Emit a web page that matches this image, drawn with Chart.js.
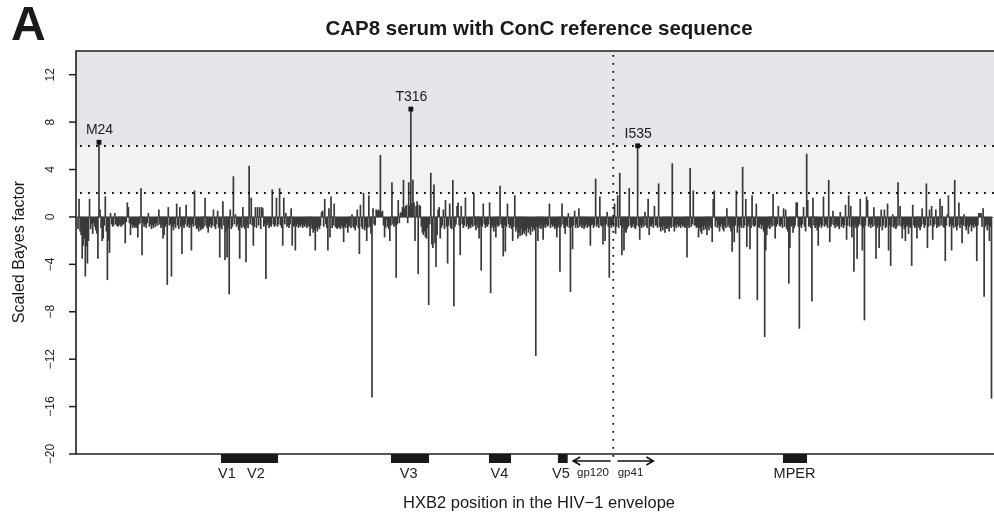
<!DOCTYPE html>
<html>
<head>
<meta charset="utf-8">
<script src="https://cdn.jsdelivr.net/npm/chart.js@4.4.1/dist/chart.umd.min.js"></script>
<style>
  html, body { margin: 0; padding: 0; background: #ffffff; overflow: hidden; }
  #wrap { width: 994px; height: 519px; }
</style>
</head>
<body>
<div id="wrap"><canvas id="c" width="994" height="519"></canvas></div>
<script>
// ---------------- DATA (scaled Bayes factor per aligned envelope position) ----------------
const seg1 = [-1.0,1.5,-1.2,-1.5,-3.5,-2.4,-1.8,-5.0,-2.5,-3.9, -2.0,1.5,-1.0,-0.6,-1.4,-0.5,-0.8,-1.1,-1.4,-3.5,
  6.3,0.6,-0.9,-2.0,-1.8,-0.7,1.7,-1.2,-5.3,-2.0, -3.0,0.3,-0.6,-0.8,-0.7,0.3,-0.6,-0.7,-0.8,-0.7,
  -0.6,-0.8,-0.7,-0.6,-0.5,-2.2,-0.4,1.2,0.8,-0.5, -1.5,-0.6,-0.9,-0.7,-0.9,-0.8,-0.9,-1.7,-0.6,-0.5,
  2.4,-3.2,-0.5,-0.8,-0.6,-0.9,-0.5,0.3,-0.8,-0.6, -1.0,-0.7,-0.9,-0.6,-0.8,-0.5,-0.7,0.6,-0.6,-0.9,
  -0.7,-1.8,-1.5,-0.8,-0.6,-5.7,0.8,-0.7,-0.6,-5.0, -0.8,-1.1,-0.6,-0.9,1.1,-0.7,-1.0,0.8,-0.8,-3.1];
const seg2 = [-0.7,-0.9,-0.6,1.0,-0.8,-0.6,-0.9,-0.7,-2.8,-0.6, -0.8,2.2,-0.7,-1.0,-0.9,-1.2,-0.8,-1.1,-0.9,-1.0,
  -0.8,1.6,-0.7,-0.9,-1.3,-0.8,-0.6,-0.9,-0.7,0.6, -0.8,-1.0,-0.6,0.5,-0.9,-3.4,-0.8,-1.0,1.3,-0.7,
  -3.6,-1.2,-3.4,-0.9,-6.5,0.6,-1.0,-0.8,3.4,-0.6, 0.2,-0.8,-0.6,-1.1,-3.5,-0.7,-0.9,0.8,-0.8,-1.0,
  -3.8,-0.7,-0.9,4.3,-0.6,1.6,-0.7,-2.4,-0.8,0.8, -0.9,0.8,-0.7,0.8,-1.0,0.8,0.7,-0.8,-0.6,-5.2,
  -0.7,-0.5,-0.9,-0.7,-0.8,2.3,-0.6,-0.8,-0.7,1.6, -0.8,-0.6,2.4,-0.7,-0.9,-2.4,1.6,-0.6,0.3,-0.8];
const seg3 = [-0.7,-0.9,-0.6,0.7,-2.4,-0.8,-0.7,-2.8,-0.8,-0.6, -0.9,-0.7,-0.8,-0.6,-0.9,-0.7,-0.8,-0.6,-0.9,-0.7,
  -0.8,-1.6,-0.7,-1.0,-1.3,-1.1,-2.8,-0.9,-1.2,-0.8, -1.0,-0.7,0.4,0.5,-0.8,1.5,-0.6,-0.9,-2.8,0.7,
  -1.7,1.7,-0.9,-0.7,1.1,-0.8,-0.9,-1.0,-0.8,-0.9, -1.0,-0.7,-0.9,-2.1,-0.8,-0.9,-0.6,-1.3,-0.8,-0.7,
  -0.9,0.2,-0.8,-0.9,-1.1,-0.7,0.6,-0.9,-3.1,1.0, -0.8,-1.0,2.0,-1.1,-0.8,-2.0,-0.9,1.8,-0.8,-1.4,
  -15.2,0.7,-0.6,-0.7,0.6,0.5,0.6,0.5,5.2,0.4, 0.5,-0.7,-1.7,-0.9,-0.2,-0.8,-1.0,-2.0,-0.7,2.9];
const seg4 = [-0.6,-0.8,-0.7,-5.1,-0.6,1.4,-0.5,0.3,0.4,0.8, 3.1,0.7,0.9,1.0,-0.5,2.9,0.9,9.1,1.1,3.1,
  1.2,-2.0,0.9,1.3,-4.8,1.0,0.9,-0.8,-1.3,-1.5, -1.2,-1.7,-1.8,-0.9,-7.4,-0.6,3.7,-2.3,-2.6,2.7,
  -2.2,-4.2,-1.5,0.6,0.8,-1.8,-0.9,-0.7,0.6,-1.0, 1.4,-0.8,-3.9,-0.7,1.1,-0.9,-1.0,3.1,-7.5,-0.8,
  -0.6,0.9,1.2,-0.7,-3.2,0.9,-0.6,-0.9,-0.7,1.6, -0.8,-0.6,-1.0,-0.8,-0.9,-0.6,-0.8,2.0,-0.7,-1.1,
  -0.6,-0.9,-1.8,-0.7,-4.5,-0.8,1.1,-0.6,-0.9,-0.7, -0.8,-0.6,1.2,-6.4,-0.9,-0.7,-1.2,-0.8,-1.7,-0.6];
const seg5 = [-0.8,-0.7,2.6,-0.6,-0.9,-3.3,-0.7,-2.9,-0.8,1.1, -0.6,-0.9,-0.7,-1.0,-2.0,-0.8,1.8,-1.2,-0.9,-1.8,
  -1.3,-1.6,-1.0,-1.5,-1.2,-1.4,-1.1,-1.6,-0.9,-1.3, -1.0,-1.5,-0.8,-1.2,-0.9,-1.1,-11.7,-0.8,-2.0,-0.9,
  -0.7,-1.0,-0.8,-1.9,-0.7,-0.9,-0.6,-0.8,-0.7,1.1, -0.9,-0.6,-0.8,-0.7,-1.0,-0.8,-1.7,-0.9,-0.7,-4.6,
  -0.8,1.1,-0.6,-0.9,-1.4,-0.7,-0.8,0.3,-0.9,-6.3, -0.8,-2.7,-0.7,0.5,-0.9,-0.6,-0.9,0.7,-0.8,-0.6,
  -0.9,-0.7,-1.0,-0.8,-0.6,-0.9,-0.7,-0.8,-2.4,-0.7, -0.6,-0.9,-0.7,3.2,-0.8,-0.6,-0.9,1.7,-0.7,-0.8];
const seg6 = [-2.3,-0.7,-2.0,-0.6,0.4,-0.8,-5.1,-0.7,-0.9,-0.6, -0.8,1.1,-1.4,-0.8,1.8,-0.9,3.7,-0.7,-3.2,-0.9,
  -2.8,-1.2,-1.3,-1.0,-0.8,2.4,-0.7,-0.9,-0.8,-0.6, -0.9,-1.0,-0.7,6.0,-0.8,-1.9,-0.7,-0.9,-0.6,-0.8,
  0.4,-0.7,-0.9,1.5,-1.5,-0.7,-0.8,-0.6,-0.9,0.9, -0.7,-0.7,-0.9,2.8,-0.8,-1.2,-0.8,-1.1,-0.7,-1.3,
  -0.9,-1.0,-0.8,-1.2,-0.7,-0.9,4.5,-0.8,-1.2,-0.7, -0.9,-0.6,-0.8,-0.7,-0.9,-0.6,-0.8,-0.7,-0.9,-0.8,
  -3.4,-0.7,-0.9,4.1,-0.8,-0.6,2.2,-0.7,-0.7,-0.9, -0.8,-1.7,-0.9,-1.2,-1.4,-0.8,-1.1,-0.7,-1.0,-1.5];
const seg7 = [-0.8,-1.1,-0.7,-0.9,-2.1,1.5,2.2,-0.8,-0.3,-0.9, -0.7,-1.2,-0.8,-0.6,-1.0,-1.2,-0.7,-0.9,0.7,-0.8,
  -0.6,-0.9,-1.2,-2.9,-0.8,-2.1,-0.7,2.2,-1.3,-0.8, -6.9,-0.7,-0.9,4.2,-0.9,-0.7,1.5,-2.5,-0.8,-0.6,
  -2.7,-0.9,1.8,-0.7,-0.8,-0.7,1.1,-7.0,-0.8,-0.9, -0.6,-1.0,-0.7,-1.2,-10.1,-2.8,-1.5,-0.9,-0.7,-1.0,
  -0.6,-0.8,1.9,-0.7,-1.8,-0.8,-0.6,0.9,-0.7,-0.8, -0.6,-0.9,0.7,-0.8,0.6,-1.0,-1.2,-5.6,-2.6,-0.8,
  -0.7,-1.3,-0.9,-0.7,1.2,1.2,-0.8,-9.4,-0.7,-0.9, -0.6,0.8,-0.8,-1.2,5.3,1.4,-0.8,-0.7,-0.9,-7.1];
const seg8 = [1.6,-0.7,-0.9,-0.7,-1.1,-2.4,-0.8,-0.6,-0.9,-0.7, 1.7,-0.8,-0.6,-0.7,-0.9,3.1,-2.1,-0.8,-0.6,0.5,
  -0.7,-0.9,-0.6,-0.8,-0.7,-1.0,0.4,-0.8,-0.6,-0.9, -0.7,1.0,-1.9,-0.7,1.8,-0.8,0.9,-1.7,-0.8,-4.6,
  -0.7,-0.9,-3.5,-0.8,-0.6,1.5,-0.7,-2.8,-0.9,-8.7, -0.7,1.7,1.4,-0.8,-0.6,-0.9,-0.6,-0.8,0.8,-0.7,
  -3.5,-0.9,-0.7,-2.6,-0.8,0.6,-1.1,-0.7,0.6,-0.9, -0.8,1.1,-2.8,-0.7,-4.1,-0.8,0.2,-0.9,-0.7,-1.0,
  -0.8,2.9,-0.7,0.9,-0.8,-1.8,-0.7,-1.0,-2.0,-0.8, -0.7,-1.4,-0.8,-0.9,-4.1,1.0,-0.7,-0.9,-0.8,-1.8];
const seg9 = [-0.7,-0.9,-1.1,-0.8,0.7,-0.6,-0.9,-0.7,2.8,-2.6, -0.8,0.6,-0.7,0.9,-1.9,-0.8,-0.6,0.6,-0.9,-0.7,
  -0.8,1.5,-0.7,0.9,-0.8,-0.9,-3.7,-0.7,0.2,1.8, -0.8,-0.6,-2.8,-0.7,-0.9,3.1,-0.8,-1.1,-0.7,1.2,
  -0.9,-0.6,-2.2,-0.7,0.2,-0.8,-1.1,-0.7,-1.4,-0.8, -0.6,-1.2,-0.7,-0.9,-0.6,-0.8,-3.7,-0.7,0.3,0.3,
  0.3,-0.8,0.7,-6.7,-0.8,-0.6,-1.1,-0.7,-2.0,-0.8, -15.3];

// labelled sites (aligned position index + residue label)
const siteIndex = [21, 318, 534];
const siteNames = ['M24', 'T316', 'I535'];

// y axis
const yTicks = [-20, -16, -12, -8, -4, 0, 4, 8, 12];
const yMin = -20, yMax = 14;
const thresholds = [2, 6];

// x axis range (aligned position index)
const xMin = -0.9, xMax = 873.4;
const gpBoundary = 510.8;

// envelope regions along the position axis
const regionNames  = ['V1V2', 'V3', 'V4', 'V5', 'MPER'];
const regionStart  = [137.2, 299.1, 392.4, 458.1, 672.4];
const regionEnd    = [191.5, 335.3, 413.4, 467.4, 695.3];
const regionLabels = ['V1', 'V2', 'V3', 'V4', 'V5', 'MPER'];
const regionLabelAt = [142.9, 170.5, 316.0, 402.4, 461.0, 683.4];
const subunitLabels = ['gp120', 'gp41'];
const subunitLabelAt = [491.5, 527.2];
const leftArrow = [472.6, 508.3];
const rightArrow = [514.8, 549.0];

// ---------------- BUILD ----------------
const values = [].concat(seg1, seg2, seg3, seg4, seg5, seg6, seg7, seg8, seg9);
const positions = values.map((v, i) => i + 1);
const barData = positions.map((p, i) => ({ x: p, y: values[i] }));
const siteData = siteIndex.map(p => ({ x: p, y: values[p - 1] }));

const FONT = "'Liberation Sans', Arial, Helvetica, sans-serif";
const INK = '#1f1f1f';

const decor = {
  id: 'decor',
  beforeDraw(chart) {
    const { ctx, chartArea: a, scales: { x, y } } = chart;
    ctx.save();
    const yTop = y.getPixelForValue(yMax);
    const y6 = y.getPixelForValue(thresholds[1]);
    const y2 = y.getPixelForValue(thresholds[0]);
    ctx.fillStyle = '#e4e5e8';
    ctx.fillRect(a.left, yTop, a.right - a.left, y6 - yTop);
    ctx.fillStyle = '#f1f2f4';
    ctx.fillRect(a.left, y6, a.right - a.left, y2 - y6);
    // zero line
    const y0 = y.getPixelForValue(0);
    ctx.strokeStyle = '#a9a9a9';
    ctx.lineWidth = 1;
    ctx.beginPath(); ctx.moveTo(a.left, y0 + 0.5); ctx.lineTo(a.right, y0 + 0.5); ctx.stroke();
    ctx.restore();
  },
  afterDatasetsDraw(chart) {
    const { ctx, chartArea: a, scales: { x, y } } = chart;
    ctx.save();
    // dotted threshold lines
    ctx.strokeStyle = '#111';
    ctx.lineWidth = 1.8;
    ctx.setLineDash([1.8, 6.2]);
    thresholds.forEach(t => {
      const py = Math.round(y.getPixelForValue(t));
      ctx.beginPath(); ctx.moveTo(a.left + 4, py); ctx.lineTo(a.right, py); ctx.stroke();
    });
    // vertical gp120/gp41 boundary
    const bx = x.getPixelForValue(gpBoundary);
    ctx.beginPath(); ctx.moveTo(bx, a.top + 4); ctx.lineTo(bx, a.bottom + 8); ctx.stroke();
    ctx.setLineDash([]);

    // axes frame
    ctx.strokeStyle = INK;
    ctx.lineWidth = 1.6;
    ctx.beginPath();
    ctx.moveTo(a.right, a.top); ctx.lineTo(a.left, a.top); ctx.lineTo(a.left, a.bottom); ctx.lineTo(a.right, a.bottom);
    ctx.stroke();
    // y ticks
    ctx.lineWidth = 1.5;
    yTicks.forEach(t => {
      const py = y.getPixelForValue(t);
      ctx.beginPath(); ctx.moveTo(a.left - 7, py); ctx.lineTo(a.left, py); ctx.stroke();
    });
    // y tick labels (rotated)
    ctx.fillStyle = INK;
    ctx.font = '12px ' + FONT;
    ctx.textAlign = 'center';
    ctx.textBaseline = 'alphabetic';
    yTicks.forEach(t => {
      const py = y.getPixelForValue(t);
      ctx.save();
      ctx.translate(54, py);
      ctx.rotate(-Math.PI / 2);
      ctx.fillText(String(t).replace('-', '\u2212'), 0, 0);
      ctx.restore();
    });

    // region boxes under the axis
    ctx.fillStyle = '#1a1a1a';
    regionNames.forEach((n, i) => {
      const x0 = x.getPixelForValue(regionStart[i]);
      const x1 = x.getPixelForValue(regionEnd[i]);
      ctx.fillRect(x0, a.bottom, x1 - x0, 9);
    });
    ctx.fillStyle = '#222';
    ctx.font = '14.5px ' + FONT;
    regionLabels.forEach((n, i) => {
      ctx.fillText(n, x.getPixelForValue(regionLabelAt[i]), a.bottom + 24);
    });
    ctx.font = '11.5px ' + FONT;
    subunitLabels.forEach((n, i) => {
      ctx.fillText(n, x.getPixelForValue(subunitLabelAt[i]), a.bottom + 22);
    });
    // arrows
    const ay = a.bottom + 7;
    ctx.strokeStyle = '#111';
    ctx.lineWidth = 1.6;
    const la0 = x.getPixelForValue(leftArrow[0]), la1 = x.getPixelForValue(leftArrow[1]);
    const ra0 = x.getPixelForValue(rightArrow[0]), ra1 = x.getPixelForValue(rightArrow[1]);
    ctx.beginPath();
    ctx.moveTo(la1, ay); ctx.lineTo(la0, ay);
    ctx.moveTo(la0 + 7, ay - 4); ctx.lineTo(la0, ay); ctx.lineTo(la0 + 7, ay + 4);
    ctx.moveTo(ra0, ay); ctx.lineTo(ra1, ay);
    ctx.moveTo(ra1 - 7, ay - 4); ctx.lineTo(ra1, ay); ctx.lineTo(ra1 - 7, ay + 4);
    ctx.stroke();

    // site labels
    ctx.fillStyle = '#1a1a1a';
    ctx.font = '14px ' + FONT;
    siteIndex.forEach((p, i) => {
      const px = x.getPixelForValue(p);
      const py = y.getPixelForValue(values[p - 1]);
      ctx.fillText(siteNames[i], px + 0.5, py - 8);
    });

    // titles
    ctx.fillStyle = '#1a1a1a';
    ctx.font = 'bold 20.5px ' + FONT;
    ctx.fillText('CAP8 serum with ConC reference sequence', 539, 35);
    ctx.textAlign = 'left';
    ctx.font = 'bold 48px ' + FONT;
    ctx.fillText('A', 11, 40);
    ctx.textAlign = 'center';
    ctx.font = '16.5px ' + FONT;
    ctx.fillText('HXB2 position in the HIV\u22121 envelope', 539, 507.5);
    ctx.save();
    ctx.translate(24, 252);
    ctx.rotate(-Math.PI / 2);
    ctx.font = '16px ' + FONT;
    ctx.fillText('Scaled Bayes factor', 0, 0);
    ctx.restore();
    ctx.restore();
  }
};

new Chart(document.getElementById('c').getContext('2d'), {
  data: {
    datasets: [
      {
        type: 'scatter',
        data: siteData,
        pointStyle: 'rect',
        pointRadius: 3.4,
        backgroundColor: '#111',
        borderWidth: 0,
        order: 0
      },
      {
        type: 'bar',
        data: barData,
        backgroundColor: '#3a3a3a',
        borderWidth: 0,
        barPercentage: 1,
        categoryPercentage: 1,
        order: 1
      }
    ]
  },
  options: {
    responsive: false,
    animation: false,
    devicePixelRatio: 1,
    events: [],
    layout: { autoPadding: false, padding: { left: 76, right: 0, top: 51, bottom: 65 } },
    plugins: { legend: { display: false }, tooltip: { enabled: false }, title: { display: false } },
    scales: {
      x: { type: 'linear', min: xMin, max: xMax, display: false, offset: false },
      y: { type: 'linear', min: yMin, max: yMax, display: false }
    }
  },
  plugins: [decor]
});
</script>
</body>
</html>
